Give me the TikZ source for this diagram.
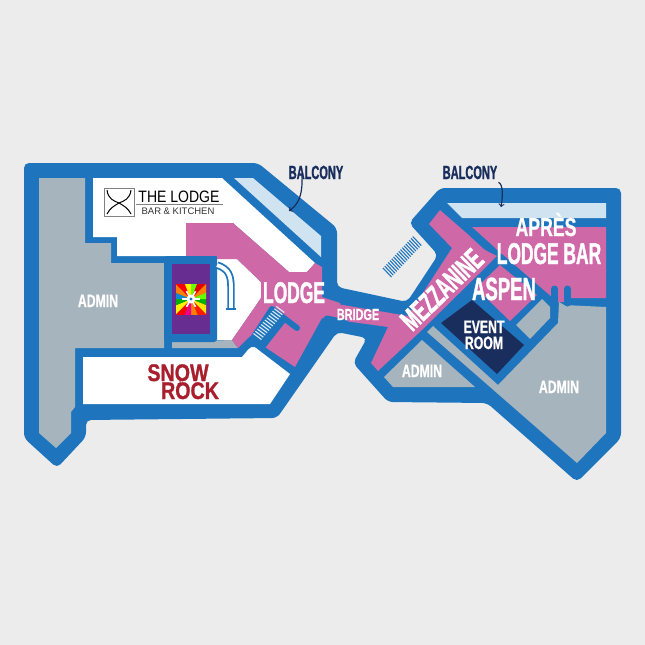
\documentclass[tikz,border=0pt]{standalone}
\usepackage{fontspec}
\usepackage{tikz}
\newfontfamily\tallfont{Liberation Sans}[FakeStretch=0.58,FakeBold=1.2]
\newfontfamily\midfont{Liberation Sans}[FakeStretch=0.68,FakeBold=0.8]
\newfontfamily\rockfont{Liberation Sans}[FakeStretch=0.82,FakeBold=1]
\newfontfamily\logofont{Liberation Sans}[FakeStretch=0.85]
\newfontfamily\plainfont{Liberation Sans}
\definecolor{pagegrey}{HTML}{ECECEC}
\definecolor{wallblue}{HTML}{1F75BD}
\definecolor{admingrey}{HTML}{A6B4BD}
\definecolor{roompink}{HTML}{CE68A6}
\definecolor{balconyblue}{HTML}{CFE3F1}
\definecolor{navyroom}{HTML}{1A2E5E}
\definecolor{kioskpurple}{HTML}{672D91}
\definecolor{rockred}{HTML}{A81E2D}
\tikzset{
  biglabel/.style={font=\tallfont\bfseries\fontsize{#1}{#1}\selectfont,text=white,inner sep=0pt,anchor=base},
  smalllabel/.style={font=\midfont\bfseries\fontsize{#1}{#1}\selectfont,text=white,inner sep=0pt,anchor=base},
  balconylabel/.style={biglabel=19,text=navyroom},
  rocklabel/.style={font=\rockfont\bfseries\fontsize{#1}{#1}\selectfont,text=rockred,inner sep=0pt,anchor=base},
  wall/.style={wallblue,line width=7pt,line cap=round,line join=round},
  pointer/.style={navyroom,line width=1.2pt,->,>=to}
}
\begin{document}
\begin{tikzpicture}[x=1pt,y=-1pt]
\fill[pagegrey] (0,0) rectangle (645,645);
% outer walls
\fill[wallblue,rounded corners=5pt] (24,163) -- (258,163) -- (337,228) -- (337,287) -- (407,302) -- (438,255) -- (409,223) -- (440,188) -- (621,188) -- (621,438) -- (577,482) -- (487,403) -- (388,402) -- (353,363) -- (367,338) -- (337,332) -- (277,418) -- (86,420) -- (86,437) -- (57,468) -- (24,438) -- cycle;
% left side rooms
\fill[admingrey] (39,178) -- (85,178) -- (85,243) -- (111,243) -- (111,263) -- (164,263) -- (164,348) -- (75,348) -- (75,407) -- (71,412) -- (71,433) -- (56,448) -- (39,433) -- cycle;
\fill[balconyblue] (234,178) -- (253,178) -- (321,236) -- (321,257) -- cycle;
\fill[white] (93,178) -- (222,178) -- (315,263) -- (307,272) -- (289,272) -- (233,223) -- (186,223) -- (186,256) -- (117,256) -- (117,237) -- (93,237) -- cycle;
\fill[white] (210,259) -- (237,259) -- (261,282) -- (261,298) -- (232,340) -- (210,340) -- cycle;
\fill[admingrey] (172,342) -- (232,340) -- (238,348) -- (172,348) -- cycle;
\fill[white] (83,357) -- (242,357) -- (252,345) -- (290,374) -- (270,404) -- (83,404) -- cycle;
\fill[roompink] (186,223) -- (233,223) -- (289,272) -- (307,272) -- (315,263) -- (322,267) -- (322,297) -- (340,303) -- (340,320) -- (322,318) -- (295,367) -- (268,349) -- (250,336) -- (238,348) -- (232,340) -- (261,298) -- (261,282) -- (237,259) -- (217,259) -- (217,256) -- (186,256) -- cycle;
% kiosk
\fill[wallblue,rounded corners=3pt] (164,256) rectangle (217,342);
\fill[kioskpurple] (172,264) rectangle (210,334);
\begin{scope}
\clip (176,284) rectangle (206,314);
\foreach \a/\c in {0/green!70!black,22.5/yellow!90!orange,45/red!80!orange,67.5/orange,90/magenta,112.5/red,135/yellow,157.5/green!70!black,180/cyan!70!blue,202.5/orange,225/red,247.5/yellow,270/green!60!yellow,292.5/red!90!black,315/orange,337.5/green!60!yellow}
  \fill[\c] (191,299) -- +(\a:30) -- +(\a+22.5:30) -- cycle;
\end{scope}
\foreach \a in {0,60,120}
  \draw[white,line width=1.6pt] (191,299) ++(\a:-9) -- ++(\a:18);
\fill[white] (191,299) circle (4.5);
\fill[wallblue] (191,299) circle (1.6);
% escalator by the kiosk
\draw[wallblue,line width=1.8pt,double=white,double distance=3.8pt] (217,265) .. controls (229,269) and (231,276) .. (231,288) -- (231,309);
\draw[wallblue,line width=1.8pt] (226.2,309) -- (235.8,309);
% stairs in the lodge
\fill[wallblue] (247,347) -- (271,309) -- (283,319) -- (262,347) -- cycle;
\draw[wall,line width=6pt] (248,346) -- (272,309) -- (297,328);
\draw[wall,line width=6pt] (284,319) -- (262,347) -- (252,342);
\foreach \i in {0,...,12}
  \draw[balconyblue!70!white,line width=1.1pt] (253.5+\i*1.9,333.5-\i*2.25) -- ++(8,6);
% logo
\draw[gray,fill=white,line width=0.8pt] (104,188) rectangle (134,216);
\draw[black,line width=1pt] (107,190) .. controls (108,199) and (114,201) .. (119,203) .. controls (124,206) and (128,208) .. (131,214);
\draw[black,line width=1pt] (131,190) .. controls (130,199) and (124,201) .. (119,203) .. controls (114,206) and (110,208) .. (107,214);
\node[font=\logofont\fontsize{16.5}{16.5}\selectfont,text=black,inner sep=0pt,anchor=base] (lodgetitle) at (179,202) {THE LODGE};
\draw[gray,line width=0.6pt] (lodgetitle.south west) ++(-2,1.5) -- ++(87,0);
\node[font=\plainfont\fontsize{9.5}{9.5}\selectfont,text=black!80,inner sep=0pt,anchor=base] (lodgesub) at (178,214) {BAR \& KITCHEN};
% right side rooms
\fill[balconyblue] (447,203) -- (606,203) -- (606,218) -- (462,218) -- cycle;
\fill[admingrey] (559,302) -- (564,305) -- (606,307) -- (606,433) -- (577,463) -- (490,387) -- (427,332) -- (433,326) -- (498,385) -- (558,323) -- cycle;
\fill[admingrey] (422,340) -- (475,387) -- (393,387) -- (384,377) -- cycle;
\fill[admingrey] (542,299) -- (550,307) -- (550,318) -- (530,339) -- (516,325) -- cycle;
\fill[navyroom] (441,323) -- (472,300) -- (524,345) -- (497,374) -- cycle;
\fill[roompink] (500,265) -- (537,295) -- (510,321) -- (476,288) -- cycle;
\fill[roompink] (472,227) -- (606,227) -- (606,298) -- (564,298) -- (564,302) -- (558,302) -- (558,297) -- (551,297) -- (500,253) -- (492,245) -- cycle;
\fill[roompink] (429,224) -- (440,210) -- (487,251) -- (497,256) -- (422,330) -- (378,371) -- (371,363) -- (388,327) -- (337,320) -- (337,304) -- (408,316) -- (452,248) -- cycle;
\draw[wall] (473,234) -- (487,247);
\draw[wall] (500,257) -- (552,302);
\draw[wall] (554.5,289) -- (554.5,320);
\draw[wall] (567.5,289) -- (567.5,303);
\draw[wall] (327,319) -- (345,323);
% outside stairs
\foreach \i in {0,...,17}
  \draw[wallblue,line width=1.1pt] (383+\i*1.75,268-\i*1.85) -- ++(8.5,9);
% labels
\node[biglabel=30] (lodge) at (294,303) {LODGE};
\node[smalllabel=18] (adminleft) at (98,307) {ADMIN};
\node[smalllabel=16] (bridge) at (358,320) {BRIDGE};
\node[biglabel=30,rotate=44] (mezzanine) at (449,297) {MEZZANINE};
\node[biglabel=32] (aspen) at (504,300) {ASPEN};
\node[smalllabel=26] (apres) at (546,236) {APRÈS};
\node[biglabel=30] (lodgebar) at (549,264) {LODGE BAR};
\node[smalllabel=18] (event) at (484,333) {EVENT};
\node[smalllabel=18] (room) at (484,349) {ROOM};
\node[smalllabel=18] (adminmid) at (422,377) {ADMIN};
\node[smalllabel=18] (adminright) at (559,393) {ADMIN};
\node[rocklabel=24] (snow) at (178,381) {SNOW};
\node[rocklabel=10] (plus) at (180,387) {+};
\node[rocklabel=24] (rock) at (190,399) {ROCK};
\node[balconylabel] (balconyleft) at (316,179) {BALCONY};
\node[balconylabel] (balconyright) at (470,179) {BALCONY};
\coordinate (leftdeck) at (289,211);
\coordinate (rightdeck) at (501,207);
\draw[pointer] ([xshift=-14pt,yshift=5pt]balconyleft.south) .. controls (303,198) and (297,205) .. (leftdeck);
\draw[pointer] ([xshift=1pt,yshift=-3pt]balconyright.south east) .. controls (503,184) and (503,195) .. (rightdeck);
\end{tikzpicture}
\end{document}
